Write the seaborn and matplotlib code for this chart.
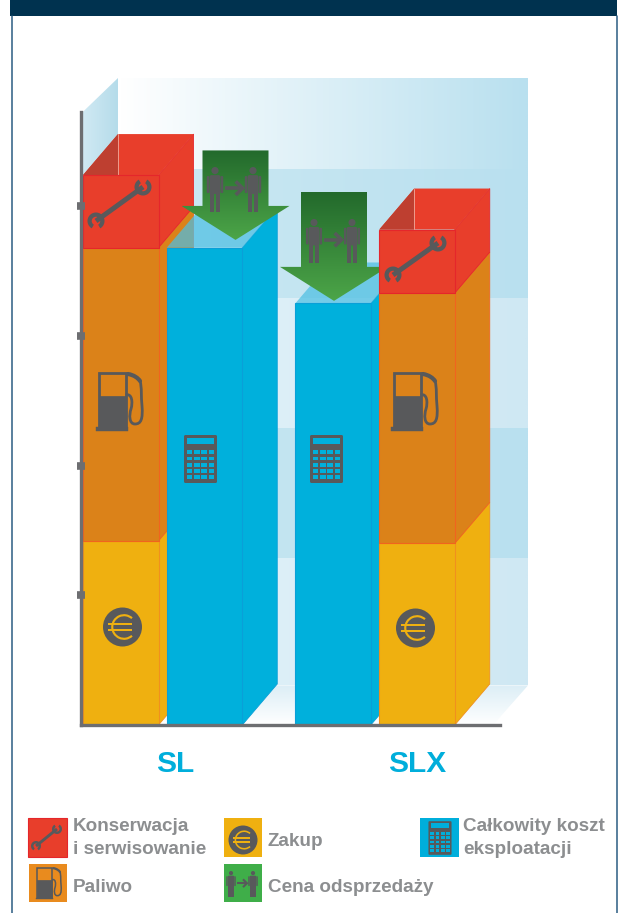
import numpy as np
import pandas as pd
import seaborn as sns
import matplotlib
matplotlib.use("Agg")
import matplotlib.pyplot as plt
from matplotlib.patches import Polygon, Rectangle, Circle, Wedge, FancyBboxPatch, PathPatch
from matplotlib.path import Path
from matplotlib.colors import to_rgb

# ---------- data ----------
models = ["SL", "SLX"]
zakup = [142, 140]
paliwo = [226, 193]
konserwacja = [56, 49]
calkowity_koszt = [368, 325]
cena_odsprzedazy = [69, 84]
y_ticks = [100, 200, 300, 400]
legend_labels = ["Konserwacja\ni serwisowanie", "Zakup", "Całkowity koszt\neksploatacji", "Paliwo", "Cena odsprzedaży"]

# ---------- style / layout ----------
W, H = 618, 913
UNIT = 1.297            # pixels per value unit
X0, X1, BASE, TOP = 81, 528, 725, 78
DX, DY = 35, 41 / UNIT  # 3-D depth
BAR_W = 75.5
POS_STACK = [120.75, 417]
POS_TOTAL = [204.5, 333]
ARROW_X = [235.5, 334]
ARROW_GAP = [6, 2]
RED, RED_E, RED_D = "#E83E2B", "#E5262B", "#BE3F30"
ORG, ORG_E = "#DB8219", "#F0641F"
YEL, YEL_E = "#EFB010", "#F0901E"
BLU, BLU_E = "#00B0DC", "#0A9FD8"
GRY = "#58595B"
AXC = "#6D6E71"
TXT = "#8C8E90"

sns.set_theme(style="white")
plt.rcParams["font.family"] = ["Liberation Sans", "DejaVu Sans"]
fig = plt.figure(figsize=(W / 100, H / 100), dpi=100, facecolor="white")
ax = fig.add_axes([X0 / W, (H - BASE) / H, (X1 - X0) / W, (BASE - TOP) / H])
ax.patch.set_alpha(0)
ymax = (BASE - TOP) / UNIT


def grad(extent, c0, c1, horizontal=True, clip=None, z=1):
    c0, c1 = np.array(to_rgb(c0)), np.array(to_rgb(c1))
    t = np.linspace(0, 1, 64)[:, None]
    row = c0 * (1 - t) + c1 * t
    img = row[None, :, :] if horizontal else row[:, None, :]
    im = ax.imshow(img, extent=extent, origin="lower", aspect="auto", zorder=z, interpolation="bilinear")
    if clip is not None:
        p = Polygon(clip, closed=True, transform=ax.transData, fc="none", ec="none")
        ax.add_patch(p)
        im.set_clip_path(p)
    return im


# back wall, left wall, floor
wall_dy = 30.5
wall_l, wall_r = X0 + 37, X1
edges = [wall_dy] + [t + 29 for t in y_ticks] + [ymax]
band_cols = [("#E6F4FA", "#CFE8F3"), ("#C9E7F2", "#B9E0EF"), ("#E6F4FA", "#CFE8F3"),
             ("#CDE9F3", "#B9E0EF"), ("#FFFFFF", "#B9E0EF")]
for (a, b), (c0, c1) in zip(zip(edges[:-1], edges[1:]), band_cols):
    grad([wall_l, wall_r, a, b], c0, c1)
grad([X0 + 2, wall_l, 0, ymax], "#D0E9F3", "#B5DCEA",
     clip=[(X0 + 2, 0), (wall_l, wall_dy), (wall_l, ymax), (X0 + 2, ymax - 26)])
grad([X0, X1, 0, wall_dy], "#FFFFFF", "#DCEEF6", horizontal=False,
     clip=[(X0 + 2, 0), (wall_l, wall_dy), (X1, wall_dy), (X1 - 35, 0)])


def bar(x, h, b, col, edge, z):
    df = pd.DataFrame({"x": [x], "v": [h]})
    sns.barplot(data=df, x="x", y="v", native_scale=True, width=BAR_W, bottom=b, color=col, saturation=1,
                edgecolor=edge, linewidth=0.8, errorbar=None, ax=ax, zorder=z)


def side(x, lo, hi, col, edge, z):
    r = x + BAR_W / 2
    ax.add_patch(Polygon([(r, lo), (r + DX, lo + DY), (r + DX, hi + DY), (r, hi)], closed=True,
                         fc=col, ec=edge, lw=0.6, zorder=z))


def top(x, y, col, z, alpha=1.0):
    l, r = x - BAR_W / 2, x + BAR_W / 2
    ax.add_patch(Polygon([(l, y), (l + DX, y + DY), (r + DX, y + DY), (r, y)], closed=True,
                         fc=col, ec="none", alpha=alpha, zorder=z))


def stack(i, z):
    x = POS_STACK[i]
    a, b, c = zakup[i], paliwo[i], konserwacja[i]
    side(x, 0, a, YEL, YEL_E, z)
    side(x, a, a + b, ORG, ORG_E, z)
    side(x, a + b, a + b + c, RED, RED_E, z)
    top(x, a + b + c, RED, z)
    l = x - BAR_W / 2
    t = a + b + c
    ax.add_patch(Polygon([(l, t), (l + DX, t + DY), (l + DX, t)], closed=True, fc=RED_D, ec="none", zorder=z))
    ax.plot([l + DX, l + DX], [t, t + DY], color="#EE9C8E", lw=0.7, zorder=z)
    bar(x, a, 0, YEL, YEL_E, z + 1)
    bar(x, b, a, ORG, ORG_E, z + 1)
    bar(x, c, a + b, RED, RED_E, z + 1)


def total(i, z):
    x = POS_TOTAL[i]
    t = calkowity_koszt[i]
    side(x, 0, t, BLU, BLU_E, z)
    top(x, t, "#4DBFE3", z, alpha=0.72)
    bar(x, t, 0, BLU, BLU_E, z + 1)


def arrow(i, z):
    c = ARROW_X[i]
    tip = calkowity_koszt[i] + ARROW_GAP[i]
    hi = tip + cena_odsprzedazy[i]
    hh = 34 / UNIT
    shaft, head = 33, 54
    pts = [(c - shaft, hi), (c + shaft, hi), (c + shaft, tip + hh), (c + head, tip + hh), (c, tip),
           (c - head, tip + hh), (c - shaft, tip + hh)]
    grad([c - head, c + head, tip, hi], "#4CA548", "#236A2C", horizontal=False, clip=pts, z=z)


stack(0, 2)
total(0, 4)
arrow(0, 6)
total(1, 7)
arrow(1, 9)
stack(1, 10)

# axes, spines, ticks
sns.despine(ax=ax, top=True, right=True)
ax.set_xlim(X0, X1)
ax.set_ylim(0, ymax)
ax.spines["left"].set_bounds(0, (BASE - 112) / UNIT)
ax.spines["bottom"].set_bounds(X0, 500)
for s in ("left", "bottom"):
    ax.spines[s].set_color(AXC)
    ax.spines[s].set_linewidth(2.4)
    ax.spines[s].set_zorder(30)
ax.set_yticks(y_ticks)
ax.set_yticklabels([])
ax.tick_params(axis="y", left=True, direction="inout", length=5.5, width=5.5, color=AXC)
ax.yaxis.set_zorder(30)
ax.xaxis.set_zorder(30)
ax.set_xticks([175, 417.5], labels=models)
ax.tick_params(axis="x", bottom=False, pad=12, labelsize=21.5, labelcolor="#00AEDB")
for lab in ax.get_xticklabels():
    lab.set_fontweight("bold")
ax.set_xlabel("")
ax.set_ylabel("")

# ---------- overlay in pixel coordinates: frame, icons, legend ----------
ov = fig.add_axes([0, 0, 1, 1], zorder=5)
ov.set_xlim(0, W)
ov.set_ylim(H, 0)
ov.axis("off")
ov.patch.set_alpha(0)
ov.add_patch(Rectangle((10, 0), 607, 16, fc="#00324F", ec="none"))
ov.plot([11.5, 11.5], [16, H], color="#2B5C82", lw=1.1)
ov.plot([616.5, 616.5], [16, H], color="#2B5C82", lw=1.1)


def wrench(p0, p1, r):
    p0, p1 = np.array(p0, float), np.array(p1, float)
    ov.plot(*zip(p0, p1), color=GRY, lw=r * 0.42, solid_capstyle="butt")
    ov.add_patch(Wedge(p1, r, -90 + 30, -90 - 30 + 360, width=r * 0.5, fc=GRY, ec="none"))
    ov.add_patch(Wedge(p0, r, 90 + 30, 90 - 30 + 360, width=r * 0.5, fc=GRY, ec="none"))


def pump(cx, cy, s):
    def X(v): return cx + v * s
    def Y(v): return cy + v * s
    ov.add_patch(Rectangle((X(-21.5), Y(-28)), 27 * s, 56 * s, fc="none", ec=GRY, lw=2.0 * s))
    ov.add_patch(Rectangle((X(-21.5), Y(-5)), 27 * s, 33 * s, fc=GRY, ec=GRY, lw=0.5))
    ov.add_patch(Rectangle((X(-24), Y(26.5)), 32 * s, 3.5 * s, fc=GRY, ec=GRY, lw=0.3))
    verts = [(5.5, -6), (12, -8), (13, 1), (11, 8), (9, 14), (9, 23), (15, 23), (21, 23), (23, 18), (22, 5), (21, -4),
             (22, -14), (20, -20)]
    codes = [Path.MOVETO] + [Path.CURVE4] * 12
    ov.add_patch(PathPatch(Path([(X(a), Y(b)) for a, b in verts], codes), fc="none", ec=GRY, lw=2.0 * s))
    nv = [(8, -27), (14, -26), (18, -23), (20, -20)]
    ov.add_patch(PathPatch(Path([(X(a), Y(b)) for a, b in nv], [Path.MOVETO] + [Path.CURVE4] * 3),
                           fc="none", ec=GRY, lw=3.0 * s, capstyle="round"))


def calc(cx, cy, s, bg):
    w, h = 33 * s, 48 * s
    ov.add_patch(FancyBboxPatch((cx - w / 2, cy - h / 2), w, h, boxstyle=f"round,pad=0,rounding_size={1.5 * s}",
                                fc=GRY, ec="none"))
    ov.add_patch(Rectangle((cx - 13.5 * s, cy - 21 * s), 27 * s, 6.5 * s, fc=bg, ec="none"))
    for r in range(5):
        for c in range(4):
            ov.add_patch(Rectangle((cx + (-13.7 + c * 7.3) * s, cy + (-8.5 + r * 6.1) * s), 5.6 * s, 3.9 * s, fc=bg, ec="none"))


def euro(cx, cy, r, bg):
    ov.add_patch(Circle((cx, cy), r, fc=GRY, ec="none"))
    ro = r * 0.66
    ov.add_patch(Wedge((cx + r * 0.08, cy), ro, 48, 312, width=r * 0.11, fc=bg, ec="none"))
    for dy in (-0.13, 0.13):
        ov.add_patch(Rectangle((cx - r * 0.72, cy + (dy - 0.05) * r), r * 1.2, r * 0.1, fc=bg, ec="none"))


def person(cx, topy, h):
    ov.add_patch(Circle((cx, topy + 0.08 * h), 0.08 * h, fc=GRY, ec="none"))
    ov.add_patch(FancyBboxPatch((cx - 0.12 * h, topy + 0.18 * h), 0.24 * h, 0.42 * h,
                                boxstyle=f"round,pad=0,rounding_size={0.04 * h}", fc=GRY, ec="none"))
    for sgn in (-1, 1):
        ov.add_patch(FancyBboxPatch((cx + sgn * 0.155 * h - 0.028 * h, topy + 0.2 * h), 0.056 * h, 0.38 * h,
                                    boxstyle=f"round,pad=0,rounding_size={0.025 * h}", fc=GRY, ec="none"))
        ov.add_patch(Rectangle((cx + sgn * 0.065 * h - 0.05 * h, topy + 0.55 * h), 0.1 * h, 0.45 * h, fc=GRY, ec="none"))


def transfer(c, topy, h, half):
    person(c - half, topy, h)
    person(c + half, topy, h)
    m = topy + 0.47 * h
    a = 0.45 * half
    lw = h * 0.058
    ov.plot([c - a, c + a * 0.9], [m, m], color=GRY, lw=lw, solid_capstyle="butt")
    ov.plot([c + a * 0.2, c + a, c + a * 0.2], [m - 0.15 * h, m, m + 0.15 * h], color=GRY, lw=lw,
            solid_joinstyle="miter", solid_capstyle="butt")


# icons on the bars
wrench((96, 221), (143, 187), 8.5)
wrench((393, 275), (438, 243), 8.5)
pump(120, 401, 1.0)
pump(415, 401, 1.0)
calc(200.5, 459, 1.0, BLU)
calc(326.5, 459, 1.0, BLU)
euro(122.5, 627, 19.5, YEL)
euro(415.5, 628, 19.5, YEL)
transfer(234, 167, 45, 19)
transfer(333, 219, 44, 19)

# legend
sw = [(28, 818, 39, 39, RED), (224, 818, 38, 39, YEL), (420, 818, 39, 39, "#00AEDB"),
      (29, 864, 38, 38, "#E98B1E"), (224, 864, 38, 38, "#3FAE49")]
for x, y, w, h, c in sw:
    ov.add_patch(Rectangle((x, y), w, h, fc=c, ec=RED_E if c == RED else "none", lw=0.8))
wrench((36, 846), (57, 829), 5)
euro(243, 840, 14.5, YEL)
calc(440, 838, 0.7, "#00AEDB")
pump(49, 883, 0.55)
transfer(242, 871, 26, 11)
tx = [(73, 838), (268, 842), (463, 838), (73, 887), (268, 887)]
for (x, y), lab in zip(tx, legend_labels):
    ov.text(x, y, lab, color=TXT, fontsize=13.6, fontweight="bold", va="center", ha="left", linespacing=1.42)

fig.savefig("out.png", dpi=100)
